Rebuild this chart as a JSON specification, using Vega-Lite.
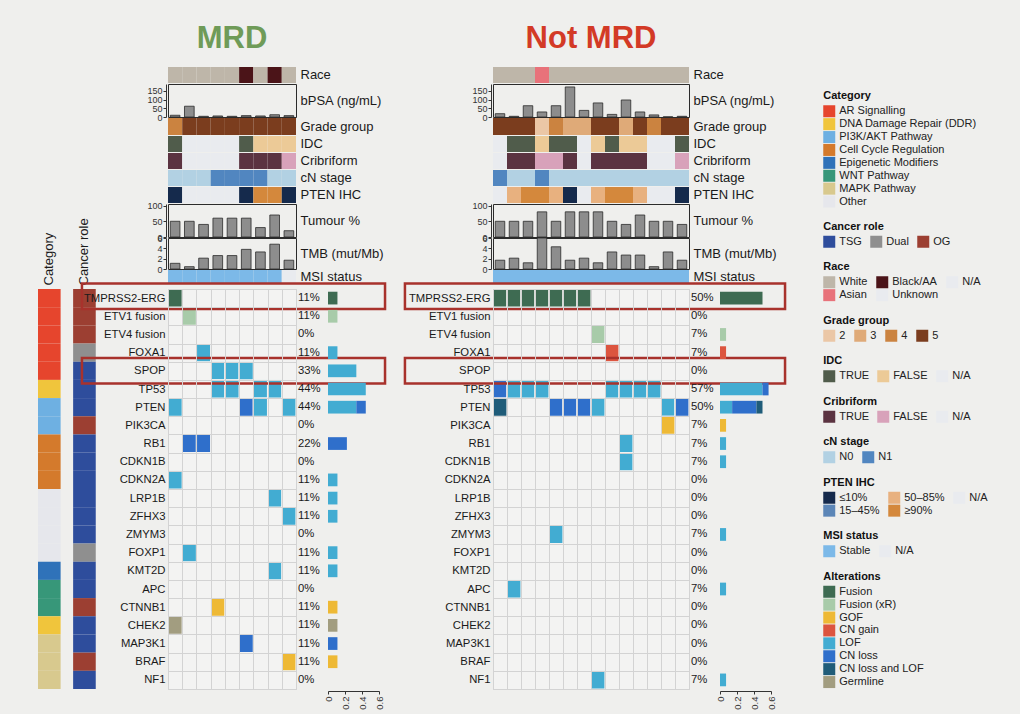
{
"$schema":"https://vega.github.io/schema/vega-lite/v6.json",
"background":"#efefed",
"padding":{"left":38,"top":23,"right":26,"bottom":5},
"config":{"font":"Liberation Sans","view":{"stroke":null},
 "legend":{"orient":"right","offset":42.75,"padding":6.25,"symbolType":"square","symbolSize":144,"symbolStrokeWidth":0,"symbolOpacity":1,"labelFontSize":11,"titleFontSize":11,"titleFontWeight":"bold","titleColor":"#111111","labelColor":"#222222","rowPadding":0.9,"columnPadding":8,"labelOffset":4,"titlePadding":4,"layout":{"right":{"direction":"vertical","anchor":"start","margin":0.5}}}},
"datasets":{
"genes_meta":[
{"gene":"TMPRSS2-ERG","category":"AR Signalling","role":"OG"},
{"gene":"ETV1 fusion","category":"AR Signalling","role":"OG"},
{"gene":"ETV4 fusion","category":"AR Signalling","role":"OG"},
{"gene":"FOXA1","category":"AR Signalling","role":"Dual"},
{"gene":"SPOP","category":"AR Signalling","role":"TSG"},
{"gene":"TP53","category":"DNA Damage Repair (DDR)","role":"TSG"},
{"gene":"PTEN","category":"PI3K/AKT Pathway","role":"TSG"},
{"gene":"PIK3CA","category":"PI3K/AKT Pathway","role":"OG"},
{"gene":"RB1","category":"Cell Cycle Regulation","role":"TSG"},
{"gene":"CDKN1B","category":"Cell Cycle Regulation","role":"TSG"},
{"gene":"CDKN2A","category":"Cell Cycle Regulation","role":"TSG"},
{"gene":"LRP1B","category":"Other","role":"TSG"},
{"gene":"ZFHX3","category":"Other","role":"TSG"},
{"gene":"ZMYM3","category":"Other","role":"TSG"},
{"gene":"FOXP1","category":"Other","role":"Dual"},
{"gene":"KMT2D","category":"Epigenetic Modifiers","role":"TSG"},
{"gene":"APC","category":"WNT Pathway","role":"TSG"},
{"gene":"CTNNB1","category":"WNT Pathway","role":"OG"},
{"gene":"CHEK2","category":"DNA Damage Repair (DDR)","role":"TSG"},
{"gene":"MAP3K1","category":"MAPK Pathway","role":"TSG"},
{"gene":"BRAF","category":"MAPK Pathway","role":"OG"},
{"gene":"NF1","category":"MAPK Pathway","role":"TSG"}],
"clin_mrd":[
{"s":1,"race":"White","bpsa":10,"grade":"4","idc":"TRUE","crib":"TRUE","cn":"N0","pten":"≤10%","tumour":50,"tmb":1.1,"msi":"Stable"},
{"s":2,"race":"White","bpsa":62,"grade":"5","idc":"N/A","crib":"N/A","cn":"N0","pten":"N/A","tumour":50,"tmb":0.45,"msi":"Stable"},
{"s":3,"race":"White","bpsa":4,"grade":"5","idc":"N/A","crib":"N/A","cn":"N0","pten":"N/A","tumour":40,"tmb":2.1,"msi":"Stable"},
{"s":4,"race":"White","bpsa":6,"grade":"5","idc":"N/A","crib":"N/A","cn":"N1","pten":"N/A","tumour":60,"tmb":2.6,"msi":"Stable"},
{"s":5,"race":"White","bpsa":4,"grade":"5","idc":"N/A","crib":"N/A","cn":"N1","pten":"N/A","tumour":60,"tmb":2.6,"msi":"Stable"},
{"s":6,"race":"Black/AA","bpsa":8,"grade":"5","idc":"TRUE","crib":"TRUE","cn":"N1","pten":"≤10%","tumour":60,"tmb":3.8,"msi":"Stable"},
{"s":7,"race":"White","bpsa":6,"grade":"5","idc":"FALSE","crib":"TRUE","cn":"N1","pten":"≥90%","tumour":30,"tmb":3.3,"msi":"Stable"},
{"s":8,"race":"Black/AA","bpsa":13,"grade":"5","idc":"FALSE","crib":"TRUE","cn":"N0","pten":"≥90%","tumour":70,"tmb":4.8,"msi":"Stable"},
{"s":9,"race":"White","bpsa":8,"grade":"5","idc":"FALSE","crib":"FALSE","cn":"N0","pten":"≤10%","tumour":20,"tmb":1.7,"msi":"N/A"}],
"clin_not":[
{"s":1,"race":"White","bpsa":19,"grade":"5","idc":"N/A","crib":"N/A","cn":"N1","pten":"N/A","tumour":50,"tmb":1.7,"msi":"Stable"},
{"s":2,"race":"White","bpsa":4,"grade":"5","idc":"TRUE","crib":"TRUE","cn":"N0","pten":"50–85%","tumour":50,"tmb":2.1,"msi":"Stable"},
{"s":3,"race":"White","bpsa":65,"grade":"5","idc":"TRUE","crib":"TRUE","cn":"N0","pten":"≥90%","tumour":50,"tmb":1.2,"msi":"Stable"},
{"s":4,"race":"Asian","bpsa":29,"grade":"2","idc":"FALSE","crib":"FALSE","cn":"N1","pten":"≥90%","tumour":80,"tmb":6.0,"msi":"Stable"},
{"s":5,"race":"White","bpsa":65,"grade":"4","idc":"TRUE","crib":"FALSE","cn":"N0","pten":"50–85%","tumour":50,"tmb":4.3,"msi":"Stable"},
{"s":6,"race":"White","bpsa":173,"grade":"3","idc":"TRUE","crib":"TRUE","cn":"N0","pten":"≤10%","tumour":80,"tmb":1.7,"msi":"Stable"},
{"s":7,"race":"White","bpsa":38,"grade":"3","idc":"N/A","crib":"N/A","cn":"N0","pten":"N/A","tumour":80,"tmb":2.1,"msi":"Stable"},
{"s":8,"race":"White","bpsa":81,"grade":"5","idc":"FALSE","crib":"TRUE","cn":"N0","pten":"50–85%","tumour":80,"tmb":1.2,"msi":"Stable"},
{"s":9,"race":"White","bpsa":15,"grade":"5","idc":"TRUE","crib":"TRUE","cn":"N0","pten":"≥90%","tumour":50,"tmb":3.3,"msi":"Stable"},
{"s":10,"race":"White","bpsa":98,"grade":"3","idc":"FALSE","crib":"TRUE","cn":"N0","pten":"≥90%","tumour":40,"tmb":2.7,"msi":"Stable"},
{"s":11,"race":"White","bpsa":29,"grade":"5","idc":"FALSE","crib":"TRUE","cn":"N0","pten":"50–85%","tumour":70,"tmb":2.7,"msi":"Stable"},
{"s":12,"race":"White","bpsa":12,"grade":"4","idc":"N/A","crib":"N/A","cn":"N0","pten":"N/A","tumour":50,"tmb":0.45,"msi":"Stable"},
{"s":13,"race":"White","bpsa":1,"grade":"5","idc":"N/A","crib":"N/A","cn":"N0","pten":"N/A","tumour":50,"tmb":3.3,"msi":"Stable"},
{"s":14,"race":"White","bpsa":4,"grade":"5","idc":"TRUE","crib":"FALSE","cn":"N0","pten":"≤10%","tumour":40,"tmb":1.7,"msi":"Stable"}],
"alt_mrd":[
{"s":1,"gene":"TMPRSS2-ERG","alt":"Fusion"},
{"s":2,"gene":"ETV1 fusion","alt":"Fusion (xR)"},
{"s":3,"gene":"FOXA1","alt":"LOF"},
{"s":4,"gene":"SPOP","alt":"LOF"},{"s":5,"gene":"SPOP","alt":"LOF"},{"s":6,"gene":"SPOP","alt":"LOF"},
{"s":4,"gene":"TP53","alt":"LOF"},{"s":5,"gene":"TP53","alt":"LOF"},{"s":7,"gene":"TP53","alt":"LOF"},{"s":8,"gene":"TP53","alt":"LOF"},
{"s":1,"gene":"PTEN","alt":"LOF"},{"s":6,"gene":"PTEN","alt":"CN loss"},{"s":7,"gene":"PTEN","alt":"LOF"},{"s":9,"gene":"PTEN","alt":"LOF"},
{"s":2,"gene":"RB1","alt":"CN loss"},{"s":3,"gene":"RB1","alt":"CN loss"},
{"s":1,"gene":"CDKN2A","alt":"LOF"},
{"s":8,"gene":"LRP1B","alt":"LOF"},
{"s":9,"gene":"ZFHX3","alt":"LOF"},
{"s":2,"gene":"FOXP1","alt":"LOF"},
{"s":8,"gene":"KMT2D","alt":"LOF"},
{"s":4,"gene":"CTNNB1","alt":"GOF"},
{"s":1,"gene":"CHEK2","alt":"Germline"},
{"s":6,"gene":"MAP3K1","alt":"CN loss"},
{"s":9,"gene":"BRAF","alt":"GOF"}],
"alt_not":[
{"s":1,"gene":"TMPRSS2-ERG","alt":"Fusion"},{"s":2,"gene":"TMPRSS2-ERG","alt":"Fusion"},{"s":3,"gene":"TMPRSS2-ERG","alt":"Fusion"},{"s":4,"gene":"TMPRSS2-ERG","alt":"Fusion"},{"s":5,"gene":"TMPRSS2-ERG","alt":"Fusion"},{"s":6,"gene":"TMPRSS2-ERG","alt":"Fusion"},{"s":7,"gene":"TMPRSS2-ERG","alt":"Fusion"},
{"s":8,"gene":"ETV4 fusion","alt":"Fusion (xR)"},
{"s":9,"gene":"FOXA1","alt":"CN gain"},
{"s":1,"gene":"TP53","alt":"CN loss"},{"s":2,"gene":"TP53","alt":"LOF"},{"s":3,"gene":"TP53","alt":"LOF"},{"s":4,"gene":"TP53","alt":"LOF"},{"s":9,"gene":"TP53","alt":"LOF"},{"s":10,"gene":"TP53","alt":"LOF"},{"s":11,"gene":"TP53","alt":"LOF"},{"s":12,"gene":"TP53","alt":"LOF"},
{"s":1,"gene":"PTEN","alt":"CN loss and LOF"},{"s":5,"gene":"PTEN","alt":"CN loss"},{"s":6,"gene":"PTEN","alt":"CN loss"},{"s":7,"gene":"PTEN","alt":"CN loss"},{"s":8,"gene":"PTEN","alt":"LOF"},{"s":13,"gene":"PTEN","alt":"LOF"},{"s":14,"gene":"PTEN","alt":"CN loss"},
{"s":13,"gene":"PIK3CA","alt":"GOF"},
{"s":10,"gene":"RB1","alt":"LOF"},
{"s":10,"gene":"CDKN1B","alt":"LOF"},
{"s":5,"gene":"ZMYM3","alt":"LOF"},
{"s":2,"gene":"APC","alt":"LOF"},
{"s":8,"gene":"NF1","alt":"LOF"}],
"freq_mrd":[
{"gene":"TMPRSS2-ERG","alt":"Fusion","frac":0.1111},
{"gene":"ETV1 fusion","alt":"Fusion (xR)","frac":0.1111},
{"gene":"ETV4 fusion","alt":"none","frac":0},
{"gene":"FOXA1","alt":"LOF","frac":0.1111},
{"gene":"SPOP","alt":"LOF","frac":0.3333},
{"gene":"TP53","alt":"LOF","frac":0.4444},
{"gene":"PTEN","alt":"LOF","frac":0.3333},{"gene":"PTEN","alt":"CN loss","frac":0.1111},
{"gene":"PIK3CA","alt":"none","frac":0},
{"gene":"RB1","alt":"CN loss","frac":0.2222},
{"gene":"CDKN1B","alt":"none","frac":0},
{"gene":"CDKN2A","alt":"LOF","frac":0.1111},
{"gene":"LRP1B","alt":"LOF","frac":0.1111},
{"gene":"ZFHX3","alt":"LOF","frac":0.1111},
{"gene":"ZMYM3","alt":"none","frac":0},
{"gene":"FOXP1","alt":"LOF","frac":0.1111},
{"gene":"KMT2D","alt":"LOF","frac":0.1111},
{"gene":"APC","alt":"none","frac":0},
{"gene":"CTNNB1","alt":"GOF","frac":0.1111},
{"gene":"CHEK2","alt":"Germline","frac":0.1111},
{"gene":"MAP3K1","alt":"CN loss","frac":0.1111},
{"gene":"BRAF","alt":"GOF","frac":0.1111},
{"gene":"NF1","alt":"none","frac":0}],
"freq_not":[
{"gene":"TMPRSS2-ERG","alt":"Fusion","frac":0.5},
{"gene":"ETV1 fusion","alt":"none","frac":0},
{"gene":"ETV4 fusion","alt":"Fusion (xR)","frac":0.0714},
{"gene":"FOXA1","alt":"CN gain","frac":0.0714},
{"gene":"SPOP","alt":"none","frac":0},
{"gene":"TP53","alt":"LOF","frac":0.5},{"gene":"TP53","alt":"CN loss","frac":0.0714},
{"gene":"PTEN","alt":"LOF","frac":0.1429},{"gene":"PTEN","alt":"CN loss","frac":0.2857},{"gene":"PTEN","alt":"CN loss and LOF","frac":0.0714},
{"gene":"PIK3CA","alt":"GOF","frac":0.0714},
{"gene":"RB1","alt":"LOF","frac":0.0714},
{"gene":"CDKN1B","alt":"LOF","frac":0.0714},
{"gene":"CDKN2A","alt":"none","frac":0},
{"gene":"LRP1B","alt":"none","frac":0},
{"gene":"ZFHX3","alt":"none","frac":0},
{"gene":"ZMYM3","alt":"LOF","frac":0.0714},
{"gene":"FOXP1","alt":"none","frac":0},
{"gene":"KMT2D","alt":"none","frac":0},
{"gene":"APC","alt":"LOF","frac":0.0714},
{"gene":"CTNNB1","alt":"none","frac":0},
{"gene":"CHEK2","alt":"none","frac":0},
{"gene":"MAP3K1","alt":"none","frac":0},
{"gene":"BRAF","alt":"none","frac":0},
{"gene":"NF1","alt":"LOF","frac":0.0714}]
},
"concat":[
{"width":1,"height":1,"data":{"values":[]},"mark":"rect","encoding":{}},
{"width":128,"height":16,"data":{"name":"clin_mrd"},"title":{"text":"MRD","fontSize":31,"fontWeight":"bold","color":"#6f9b58","anchor":"middle","frame":"group","offset":-12,"baseline":"alphabetic"},"mark":"rect","encoding":{"x":{"field":"s","type":"ordinal","scale":{"paddingInner":0,"paddingOuter":0},"axis":null},"y":{"datum":"Race","type":"nominal","scale":{"paddingInner":0,"paddingOuter":0},"axis":{"orient":"right","ticks":false,"domain":false,"labelPadding":4,"labelFontSize":13,"labelColor":"#1a1a1a","title":null}},"color":{"field":"race","type":"nominal","scale":{"domain":["White","Black/AA","N/A","Asian","Unknown"],"range":["#beb6a9","#4b1418","#e9ebef","#e8727a","#e9ebef"]},"legend":null}}},
{"width":1,"height":1,"data":{"values":[]},"mark":"rect","encoding":{}},
{"width":1,"height":1,"data":{"values":[]},"mark":"rect","encoding":{}},
{"width":110,"height":1,"data":{"values":[]},"mark":"rect","encoding":{}},
{"width":196,"height":16,"data":{"name":"clin_not"},"title":{"text":"Not MRD","fontSize":31,"fontWeight":"bold","color":"#d33a26","anchor":"middle","frame":"group","offset":-12,"baseline":"alphabetic"},"mark":"rect","encoding":{"x":{"field":"s","type":"ordinal","scale":{"paddingInner":0,"paddingOuter":0},"axis":null},"y":{"datum":"Race","type":"nominal","scale":{"paddingInner":0,"paddingOuter":0},"axis":{"orient":"right","ticks":false,"domain":false,"labelPadding":4,"labelFontSize":13,"labelColor":"#1a1a1a","title":null}},"color":{"field":"race","type":"nominal","scale":{"domain":["White","Black/AA","N/A","Asian","Unknown"],"range":["#beb6a9","#4b1418","#e9ebef","#e8727a","#e9ebef"]},"legend":null}}},
{"width":1,"height":1,"data":{"values":[]},"mark":"rect","encoding":{}},
{"width":1,"height":1,"data":{"values":[]},"mark":"rect","encoding":{}},
{"width":1,"height":1,"data":{"values":[]},"mark":"rect","encoding":{}},

{"width":1,"height":1,"data":{"values":[]},"mark":"rect","encoding":{}},
{"width":128,"height":33,"data":{"name":"clin_mrd"},"view":{"stroke":"#2b2b2b","strokeWidth":1},"layer":[{"mark":{"type":"bar","fill":"#8d8d8d","stroke":"#2b2b2b","strokeWidth":0.8},"encoding":{"x":{"field":"s","type":"ordinal","scale":{"paddingInner":0.32,"paddingOuter":0.16},"axis":null},"y":{"field":"bpsa","type":"quantitative","scale":{"domain":[0,190],"nice":false},"axis":{"orient":"left","values":[0,50,100,150],"tickSize":3,"tickColor":"#333333","domainColor":"#333333","labelFontSize":9,"labelColor":"#333333","labelPadding":1,"offset":2,"grid":false,"title":null,"labelOverlap":false,"labelFlush":false}}}},{"mark":{"type":"text","text":""},"encoding":{"y":{"datum":"bPSA (ng/mL)","type":"nominal","axis":{"orient":"right","ticks":false,"domain":false,"labelPadding":4,"labelFontSize":13,"labelColor":"#1a1a1a","title":null}}}}],"resolve":{"scale":{"y":"independent"}}},
{"width":1,"height":1,"data":{"values":[]},"mark":"rect","encoding":{}},
{"width":1,"height":1,"data":{"values":[]},"mark":"rect","encoding":{}},
{"width":1,"height":1,"data":{"values":[]},"mark":"rect","encoding":{}},
{"width":196,"height":33,"data":{"name":"clin_not"},"view":{"stroke":"#2b2b2b","strokeWidth":1},"layer":[{"mark":{"type":"bar","fill":"#8d8d8d","stroke":"#2b2b2b","strokeWidth":0.8},"encoding":{"x":{"field":"s","type":"ordinal","scale":{"paddingInner":0.32,"paddingOuter":0.16},"axis":null},"y":{"field":"bpsa","type":"quantitative","scale":{"domain":[0,190],"nice":false},"axis":{"orient":"left","values":[0,50,100,150],"tickSize":3,"tickColor":"#333333","domainColor":"#333333","labelFontSize":9,"labelColor":"#333333","labelPadding":1,"offset":2,"grid":false,"title":null,"labelOverlap":false,"labelFlush":false}}}},{"mark":{"type":"text","text":""},"encoding":{"y":{"datum":"bPSA (ng/mL)","type":"nominal","axis":{"orient":"right","ticks":false,"domain":false,"labelPadding":4,"labelFontSize":13,"labelColor":"#1a1a1a","title":null}}}}],"resolve":{"scale":{"y":"independent"}}},
{"width":1,"height":1,"data":{"values":[]},"mark":"rect","encoding":{}},
{"width":1,"height":1,"data":{"values":[]},"mark":"rect","encoding":{}},
{"width":1,"height":1,"data":{"values":[]},"layer":[
 {"mark":"square","encoding":{"color":{"field":"v","type":"nominal","scale":{"domain":["AR Signalling","DNA Damage Repair (DDR)","PI3K/AKT Pathway","Cell Cycle Regulation","Epigenetic Modifiers","WNT Pathway","MAPK Pathway","Other"],"range":["#e6452d","#f0c53c","#6eb0e2","#d47a2c","#2f72b9","#379779","#d8c98e","#e6e7ec"]},"legend":{"title":"Category"}}}},
 {"mark":"square","encoding":{"color":{"field":"v","type":"nominal","scale":{"domain":["TSG","Dual","OG"],"range":["#2e4d9c","#8f8f8f","#9c3f32"]},"legend":{"title":"Cancer role","columns":3,"direction":"horizontal"}}}},
 {"mark":"square","encoding":{"color":{"field":"v","type":"nominal","scale":{"domain":["White","Black/AA","N/A","Asian","Unknown"],"range":["#beb6a9","#4b1418","#e9ebef","#e8727a","#e9ebef"]},"legend":{"title":"Race","columns":3,"direction":"horizontal"}}}},
 {"mark":"square","encoding":{"color":{"field":"v","type":"nominal","scale":{"domain":["2","3","4","5"],"range":["#ebc7a6","#dfaa78","#cb8340","#7b3d1e"]},"legend":{"title":"Grade group","columns":4,"direction":"horizontal"}}}},
 {"mark":"square","encoding":{"color":{"field":"v","type":"nominal","scale":{"domain":["TRUE","FALSE","N/A"],"range":["#505c4b","#ecca97","#e9ebef"]},"legend":{"title":"IDC","columns":3,"direction":"horizontal"}}}},
 {"mark":"square","encoding":{"color":{"field":"v","type":"nominal","scale":{"domain":["TRUE","FALSE","N/A"],"range":["#5b3341","#d8a2ba","#e9ebef"]},"legend":{"title":"Cribriform","columns":3,"direction":"horizontal"}}}},
 {"mark":"square","encoding":{"color":{"field":"v","type":"nominal","scale":{"domain":["N0","N1"],"range":["#b2d1e3","#5186c0"]},"legend":{"title":"cN stage","columns":2,"direction":"horizontal"}}}},
 {"mark":"square","encoding":{"color":{"field":"v","type":"nominal","scale":{"domain":["≤10%","50–85%","N/A","15–45%","≥90%"],"range":["#152a4c","#e8b17f","#e9ebef","#5c86b7","#d4883c"]},"legend":{"title":"PTEN IHC","columns":3,"direction":"horizontal"}}}},
 {"mark":"square","encoding":{"color":{"field":"v","type":"nominal","scale":{"domain":["Stable","N/A"],"range":["#7cb9e8","#e9ebef"]},"legend":{"title":"MSI status","columns":2,"direction":"horizontal"}}}},
 {"mark":"square","encoding":{"color":{"field":"v","type":"nominal","scale":{"domain":["Fusion","Fusion (xR)","GOF","CN gain","LOF","CN loss","CN loss and LOF","Germline"],"range":["#3e6b52","#a8cba9","#eeb935","#dc553f","#42acd2","#2f6fcb","#1f5c79","#a29d80"]},"legend":{"title":"Alterations"}}}}
],"resolve":{"scale":{"color":"independent"},"legend":{"color":"independent"}}},

{"width":1,"height":1,"data":{"values":[]},"mark":"rect","encoding":{}},
{"width":128,"height":17,"data":{"name":"clin_mrd"},"mark":"rect","encoding":{"x":{"field":"s","type":"ordinal","scale":{"paddingInner":0,"paddingOuter":0},"axis":null},"y":{"datum":"Grade group","type":"nominal","scale":{"paddingInner":0,"paddingOuter":0},"axis":{"orient":"right","ticks":false,"domain":false,"labelPadding":4,"labelFontSize":13,"labelColor":"#1a1a1a","title":null}},"color":{"field":"grade","type":"nominal","scale":{"domain":["2","3","4","5"],"range":["#ebc7a6","#dfaa78","#cb8340","#7b3d1e"]},"legend":null}}},
{"width":1,"height":1,"data":{"values":[]},"mark":"rect","encoding":{}},
{"width":1,"height":1,"data":{"values":[]},"mark":"rect","encoding":{}},
{"width":1,"height":1,"data":{"values":[]},"mark":"rect","encoding":{}},
{"width":196,"height":17,"data":{"name":"clin_not"},"mark":"rect","encoding":{"x":{"field":"s","type":"ordinal","scale":{"paddingInner":0,"paddingOuter":0},"axis":null},"y":{"datum":"Grade group","type":"nominal","scale":{"paddingInner":0,"paddingOuter":0},"axis":{"orient":"right","ticks":false,"domain":false,"labelPadding":4,"labelFontSize":13,"labelColor":"#1a1a1a","title":null}},"color":{"field":"grade","type":"nominal","scale":{"domain":["2","3","4","5"],"range":["#ebc7a6","#dfaa78","#cb8340","#7b3d1e"]},"legend":null}}},
{"width":1,"height":1,"data":{"values":[]},"mark":"rect","encoding":{}},
{"width":1,"height":1,"data":{"values":[]},"mark":"rect","encoding":{}},
{"width":1,"height":1,"data":{"values":[]},"mark":"rect","encoding":{}},

{"width":1,"height":1,"data":{"values":[]},"mark":"rect","encoding":{}},
{"width":128,"height":16,"data":{"name":"clin_mrd"},"mark":"rect","encoding":{"x":{"field":"s","type":"ordinal","scale":{"paddingInner":0,"paddingOuter":0},"axis":null},"y":{"datum":"IDC","type":"nominal","scale":{"paddingInner":0,"paddingOuter":0},"axis":{"orient":"right","ticks":false,"domain":false,"labelPadding":4,"labelFontSize":13,"labelColor":"#1a1a1a","title":null}},"color":{"field":"idc","type":"nominal","scale":{"domain":["TRUE","FALSE","N/A"],"range":["#505c4b","#ecca97","#e9ebef"]},"legend":null}}},
{"width":1,"height":1,"data":{"values":[]},"mark":"rect","encoding":{}},
{"width":1,"height":1,"data":{"values":[]},"mark":"rect","encoding":{}},
{"width":1,"height":1,"data":{"values":[]},"mark":"rect","encoding":{}},
{"width":196,"height":16,"data":{"name":"clin_not"},"mark":"rect","encoding":{"x":{"field":"s","type":"ordinal","scale":{"paddingInner":0,"paddingOuter":0},"axis":null},"y":{"datum":"IDC","type":"nominal","scale":{"paddingInner":0,"paddingOuter":0},"axis":{"orient":"right","ticks":false,"domain":false,"labelPadding":4,"labelFontSize":13,"labelColor":"#1a1a1a","title":null}},"color":{"field":"idc","type":"nominal","scale":{"domain":["TRUE","FALSE","N/A"],"range":["#505c4b","#ecca97","#e9ebef"]},"legend":null}}},
{"width":1,"height":1,"data":{"values":[]},"mark":"rect","encoding":{}},
{"width":1,"height":1,"data":{"values":[]},"mark":"rect","encoding":{}},
{"width":1,"height":1,"data":{"values":[]},"mark":"rect","encoding":{}},

{"width":1,"height":1,"data":{"values":[]},"mark":"rect","encoding":{}},
{"width":128,"height":16,"data":{"name":"clin_mrd"},"mark":"rect","encoding":{"x":{"field":"s","type":"ordinal","scale":{"paddingInner":0,"paddingOuter":0},"axis":null},"y":{"datum":"Cribriform","type":"nominal","scale":{"paddingInner":0,"paddingOuter":0},"axis":{"orient":"right","ticks":false,"domain":false,"labelPadding":4,"labelFontSize":13,"labelColor":"#1a1a1a","title":null}},"color":{"field":"crib","type":"nominal","scale":{"domain":["TRUE","FALSE","N/A"],"range":["#5b3341","#d8a2ba","#e9ebef"]},"legend":null}}},
{"width":1,"height":1,"data":{"values":[]},"mark":"rect","encoding":{}},
{"width":1,"height":1,"data":{"values":[]},"mark":"rect","encoding":{}},
{"width":1,"height":1,"data":{"values":[]},"mark":"rect","encoding":{}},
{"width":196,"height":16,"data":{"name":"clin_not"},"mark":"rect","encoding":{"x":{"field":"s","type":"ordinal","scale":{"paddingInner":0,"paddingOuter":0},"axis":null},"y":{"datum":"Cribriform","type":"nominal","scale":{"paddingInner":0,"paddingOuter":0},"axis":{"orient":"right","ticks":false,"domain":false,"labelPadding":4,"labelFontSize":13,"labelColor":"#1a1a1a","title":null}},"color":{"field":"crib","type":"nominal","scale":{"domain":["TRUE","FALSE","N/A"],"range":["#5b3341","#d8a2ba","#e9ebef"]},"legend":null}}},
{"width":1,"height":1,"data":{"values":[]},"mark":"rect","encoding":{}},
{"width":1,"height":1,"data":{"values":[]},"mark":"rect","encoding":{}},
{"width":1,"height":1,"data":{"values":[]},"mark":"rect","encoding":{}},

{"width":1,"height":1,"data":{"values":[]},"mark":"rect","encoding":{}},
{"width":128,"height":16,"data":{"name":"clin_mrd"},"mark":"rect","encoding":{"x":{"field":"s","type":"ordinal","scale":{"paddingInner":0,"paddingOuter":0},"axis":null},"y":{"datum":"cN stage","type":"nominal","scale":{"paddingInner":0,"paddingOuter":0},"axis":{"orient":"right","ticks":false,"domain":false,"labelPadding":4,"labelFontSize":13,"labelColor":"#1a1a1a","title":null}},"color":{"field":"cn","type":"nominal","scale":{"domain":["N0","N1"],"range":["#b2d1e3","#5186c0"]},"legend":null}}},
{"width":1,"height":1,"data":{"values":[]},"mark":"rect","encoding":{}},
{"width":1,"height":1,"data":{"values":[]},"mark":"rect","encoding":{}},
{"width":1,"height":1,"data":{"values":[]},"mark":"rect","encoding":{}},
{"width":196,"height":16,"data":{"name":"clin_not"},"mark":"rect","encoding":{"x":{"field":"s","type":"ordinal","scale":{"paddingInner":0,"paddingOuter":0},"axis":null},"y":{"datum":"cN stage","type":"nominal","scale":{"paddingInner":0,"paddingOuter":0},"axis":{"orient":"right","ticks":false,"domain":false,"labelPadding":4,"labelFontSize":13,"labelColor":"#1a1a1a","title":null}},"color":{"field":"cn","type":"nominal","scale":{"domain":["N0","N1"],"range":["#b2d1e3","#5186c0"]},"legend":null}}},
{"width":1,"height":1,"data":{"values":[]},"mark":"rect","encoding":{}},
{"width":1,"height":1,"data":{"values":[]},"mark":"rect","encoding":{}},
{"width":1,"height":1,"data":{"values":[]},"mark":"rect","encoding":{}},

{"width":1,"height":1,"data":{"values":[]},"mark":"rect","encoding":{}},
{"width":128,"height":16,"data":{"name":"clin_mrd"},"mark":"rect","encoding":{"x":{"field":"s","type":"ordinal","scale":{"paddingInner":0,"paddingOuter":0},"axis":null},"y":{"datum":"PTEN IHC","type":"nominal","scale":{"paddingInner":0,"paddingOuter":0},"axis":{"orient":"right","ticks":false,"domain":false,"labelPadding":4,"labelFontSize":13,"labelColor":"#1a1a1a","title":null}},"color":{"field":"pten","type":"nominal","scale":{"domain":["≤10%","50–85%","N/A","15–45%","≥90%"],"range":["#152a4c","#e8b17f","#e9ebef","#5c86b7","#d4883c"]},"legend":null}}},
{"width":1,"height":1,"data":{"values":[]},"mark":"rect","encoding":{}},
{"width":1,"height":1,"data":{"values":[]},"mark":"rect","encoding":{}},
{"width":1,"height":1,"data":{"values":[]},"mark":"rect","encoding":{}},
{"width":196,"height":16,"data":{"name":"clin_not"},"mark":"rect","encoding":{"x":{"field":"s","type":"ordinal","scale":{"paddingInner":0,"paddingOuter":0},"axis":null},"y":{"datum":"PTEN IHC","type":"nominal","scale":{"paddingInner":0,"paddingOuter":0},"axis":{"orient":"right","ticks":false,"domain":false,"labelPadding":4,"labelFontSize":13,"labelColor":"#1a1a1a","title":null}},"color":{"field":"pten","type":"nominal","scale":{"domain":["≤10%","50–85%","N/A","15–45%","≥90%"],"range":["#152a4c","#e8b17f","#e9ebef","#5c86b7","#d4883c"]},"legend":null}}},
{"width":1,"height":1,"data":{"values":[]},"mark":"rect","encoding":{}},
{"width":1,"height":1,"data":{"values":[]},"mark":"rect","encoding":{}},
{"width":1,"height":1,"data":{"values":[]},"mark":"rect","encoding":{}},

{"width":1,"height":1,"data":{"values":[]},"mark":"rect","encoding":{}},
{"width":128,"height":33,"data":{"name":"clin_mrd"},"view":{"stroke":"#2b2b2b","strokeWidth":1},"layer":[{"mark":{"type":"bar","fill":"#8d8d8d","stroke":"#2b2b2b","strokeWidth":0.8},"encoding":{"x":{"field":"s","type":"ordinal","scale":{"paddingInner":0.32,"paddingOuter":0.16},"axis":null},"y":{"field":"tumour","type":"quantitative","scale":{"domain":[0,105],"nice":false},"axis":{"orient":"left","values":[0,50,100],"tickSize":3,"tickColor":"#333333","domainColor":"#333333","labelFontSize":9,"labelColor":"#333333","labelPadding":1,"offset":2,"grid":false,"title":null,"labelOverlap":false,"labelFlush":false}}}},{"mark":{"type":"text","text":""},"encoding":{"y":{"datum":"Tumour %","type":"nominal","axis":{"orient":"right","ticks":false,"domain":false,"labelPadding":4,"labelFontSize":13,"labelColor":"#1a1a1a","title":null}}}}],"resolve":{"scale":{"y":"independent"}}},
{"width":1,"height":1,"data":{"values":[]},"mark":"rect","encoding":{}},
{"width":1,"height":1,"data":{"values":[]},"mark":"rect","encoding":{}},
{"width":1,"height":1,"data":{"values":[]},"mark":"rect","encoding":{}},
{"width":196,"height":33,"data":{"name":"clin_not"},"view":{"stroke":"#2b2b2b","strokeWidth":1},"layer":[{"mark":{"type":"bar","fill":"#8d8d8d","stroke":"#2b2b2b","strokeWidth":0.8},"encoding":{"x":{"field":"s","type":"ordinal","scale":{"paddingInner":0.32,"paddingOuter":0.16},"axis":null},"y":{"field":"tumour","type":"quantitative","scale":{"domain":[0,105],"nice":false},"axis":{"orient":"left","values":[0,50,100],"tickSize":3,"tickColor":"#333333","domainColor":"#333333","labelFontSize":9,"labelColor":"#333333","labelPadding":1,"offset":2,"grid":false,"title":null,"labelOverlap":false,"labelFlush":false}}}},{"mark":{"type":"text","text":""},"encoding":{"y":{"datum":"Tumour %","type":"nominal","axis":{"orient":"right","ticks":false,"domain":false,"labelPadding":4,"labelFontSize":13,"labelColor":"#1a1a1a","title":null}}}}],"resolve":{"scale":{"y":"independent"}}},
{"width":1,"height":1,"data":{"values":[]},"mark":"rect","encoding":{}},
{"width":1,"height":1,"data":{"values":[]},"mark":"rect","encoding":{}},
{"width":1,"height":1,"data":{"values":[]},"mark":"rect","encoding":{}},

{"width":1,"height":1,"data":{"values":[]},"mark":"rect","encoding":{}},
{"width":128,"height":31,"data":{"name":"clin_mrd"},"view":{"stroke":"#2b2b2b","strokeWidth":1},"layer":[{"mark":{"type":"bar","fill":"#8d8d8d","stroke":"#2b2b2b","strokeWidth":0.8},"encoding":{"x":{"field":"s","type":"ordinal","scale":{"paddingInner":0.32,"paddingOuter":0.16},"axis":null},"y":{"field":"tmb","type":"quantitative","scale":{"domain":[0,6],"nice":false},"axis":{"orient":"left","values":[0,2,4,6],"tickSize":3,"tickColor":"#333333","domainColor":"#333333","labelFontSize":9,"labelColor":"#333333","labelPadding":1,"offset":2,"grid":false,"title":null,"labelOverlap":false,"labelFlush":false}}}},{"mark":{"type":"text","text":""},"encoding":{"y":{"datum":"TMB (mut/Mb)","type":"nominal","axis":{"orient":"right","ticks":false,"domain":false,"labelPadding":4,"labelFontSize":13,"labelColor":"#1a1a1a","title":null}}}}],"resolve":{"scale":{"y":"independent"}}},
{"width":1,"height":1,"data":{"values":[]},"mark":"rect","encoding":{}},
{"width":1,"height":1,"data":{"values":[]},"mark":"rect","encoding":{}},
{"width":1,"height":1,"data":{"values":[]},"mark":"rect","encoding":{}},
{"width":196,"height":31,"data":{"name":"clin_not"},"view":{"stroke":"#2b2b2b","strokeWidth":1},"layer":[{"mark":{"type":"bar","fill":"#8d8d8d","stroke":"#2b2b2b","strokeWidth":0.8},"encoding":{"x":{"field":"s","type":"ordinal","scale":{"paddingInner":0.32,"paddingOuter":0.16},"axis":null},"y":{"field":"tmb","type":"quantitative","scale":{"domain":[0,6],"nice":false},"axis":{"orient":"left","values":[0,2,4,6],"tickSize":3,"tickColor":"#333333","domainColor":"#333333","labelFontSize":9,"labelColor":"#333333","labelPadding":1,"offset":2,"grid":false,"title":null,"labelOverlap":false,"labelFlush":false}}}},{"mark":{"type":"text","text":""},"encoding":{"y":{"datum":"TMB (mut/Mb)","type":"nominal","axis":{"orient":"right","ticks":false,"domain":false,"labelPadding":4,"labelFontSize":13,"labelColor":"#1a1a1a","title":null}}}}],"resolve":{"scale":{"y":"independent"}}},
{"width":1,"height":1,"data":{"values":[]},"mark":"rect","encoding":{}},
{"width":1,"height":1,"data":{"values":[]},"mark":"rect","encoding":{}},
{"width":1,"height":1,"data":{"values":[]},"mark":"rect","encoding":{}},

{"width":1,"height":18,"data":{"values":[]},"mark":"rect","encoding":{}},
{"width":128,"height":13,"data":{"name":"clin_mrd"},"mark":"rect","encoding":{"x":{"field":"s","type":"ordinal","scale":{"paddingInner":0,"paddingOuter":0},"axis":null},"y":{"datum":"MSI status","type":"nominal","scale":{"paddingInner":0,"paddingOuter":0},"axis":{"orient":"right","ticks":false,"domain":false,"labelPadding":4,"labelFontSize":13,"labelColor":"#1a1a1a","title":null}},"color":{"field":"msi","type":"nominal","scale":{"domain":["Stable","N/A"],"range":["#7cb9e8","#e9ebef"]},"legend":null}}},
{"width":1,"height":1,"data":{"values":[]},"mark":"rect","encoding":{}},
{"width":1,"height":1,"data":{"values":[]},"mark":"rect","encoding":{}},
{"width":1,"height":1,"data":{"values":[]},"mark":"rect","encoding":{}},
{"width":196,"height":13,"data":{"name":"clin_not"},"mark":"rect","encoding":{"x":{"field":"s","type":"ordinal","scale":{"paddingInner":0,"paddingOuter":0},"axis":null},"y":{"datum":"MSI status","type":"nominal","scale":{"paddingInner":0,"paddingOuter":0},"axis":{"orient":"right","ticks":false,"domain":false,"labelPadding":4,"labelFontSize":13,"labelColor":"#1a1a1a","title":null}},"color":{"field":"msi","type":"nominal","scale":{"domain":["Stable","N/A"],"range":["#7cb9e8","#e9ebef"]},"legend":null}}},
{"width":1,"height":1,"data":{"values":[]},"mark":"rect","encoding":{}},
{"width":1,"height":1,"data":{"values":[]},"mark":"rect","encoding":{}},
{"width":1,"height":1,"data":{"values":[]},"mark":"rect","encoding":{}},

{"width":128,"height":400,"data":{"name":"genes_meta"},"layer":[
 {"mark":"rect","encoding":{"x":{"datum":"Category","type":"nominal","scale":{"domain":["Category","Cancer role"],"paddingInner":0.356,"paddingOuter":2.02,"align":0},"axis":{"orient":"top","labelAngle":270,"labelAlign":"left","labelBaseline":"middle","ticks":false,"domain":false,"labelFontSize":13,"labelColor":"#1a1a1a","labelPadding":4,"title":null}},"y":{"field":"gene","type":"nominal","scale":{"domain":["TMPRSS2-ERG","ETV1 fusion","ETV4 fusion","FOXA1","SPOP","TP53","PTEN","PIK3CA","RB1","CDKN1B","CDKN2A","LRP1B","ZFHX3","ZMYM3","FOXP1","KMT2D","APC","CTNNB1","CHEK2","MAP3K1","BRAF","NF1"],"paddingInner":0,"paddingOuter":0},"axis":null},"color":{"field":"category","type":"nominal","scale":{"domain":["AR Signalling","DNA Damage Repair (DDR)","PI3K/AKT Pathway","Cell Cycle Regulation","Epigenetic Modifiers","WNT Pathway","MAPK Pathway","Other"],"range":["#e6452d","#f0c53c","#6eb0e2","#d47a2c","#2f72b9","#379779","#d8c98e","#e6e7ec"]},"legend":null}}},
 {"mark":"rect","encoding":{"x":{"datum":"Cancer role","type":"nominal"},"y":{"field":"gene","type":"nominal"},"color":{"field":"role","type":"nominal","scale":{"domain":["TSG","Dual","OG"],"range":["#2e4d9c","#8f8f8f","#9c3f32"]},"legend":null}}}
],"resolve":{"scale":{"color":"independent"}}},
{"width":128,"height":400,"view":{"fill":"#f3f3f2","stroke":"#d3d3d3"},"layer":[
 {"data":{"name":"alt_mrd"},"mark":{"type":"rect","stroke":"#f3f3f2","strokeWidth":1.2},"encoding":{"x":{"field":"s","type":"ordinal","scale":{"domain":[1,2,3,4,5,6,7,8,9],"paddingInner":0,"paddingOuter":0},"axis":{"orient":"bottom","grid":true,"tickBand":"extent","gridColor":"#d3d3d3","labels":false,"ticks":false,"domain":false,"title":null}},"y":{"field":"gene","type":"nominal","scale":{"domain":["TMPRSS2-ERG","ETV1 fusion","ETV4 fusion","FOXA1","SPOP","TP53","PTEN","PIK3CA","RB1","CDKN1B","CDKN2A","LRP1B","ZFHX3","ZMYM3","FOXP1","KMT2D","APC","CTNNB1","CHEK2","MAP3K1","BRAF","NF1"],"paddingInner":0,"paddingOuter":0},"axis":{"orient":"left","grid":true,"tickBand":"extent","gridColor":"#d3d3d3","ticks":false,"domain":false,"labelFontSize":11.3,"labelColor":"#1a1a1a","labelPadding":3,"title":null}},"color":{"field":"alt","type":"nominal","scale":{"domain":["Fusion","Fusion (xR)","GOF","CN gain","LOF","CN loss","CN loss and LOF","Germline"],"range":["#3e6b52","#a8cba9","#eeb935","#dc553f","#42acd2","#2f6fcb","#1f5c79","#a29d80"]},"legend":null}}},
 {"data":{"values":[{}]},"mark":{"type":"rect","fill":"#ffffff","fillOpacity":0,"stroke":"#a8322c","strokeWidth":2.5},"encoding":{"x":{"datum":-6.05,"type":"quantitative","scale":{"domain":[0,9],"nice":false},"axis":null},"x2":{"datum":15.26},"y":{"datum":-0.3,"type":"quantitative","scale":{"domain":[0,22],"nice":false,"reverse":true},"axis":null},"y2":{"datum":1.1}}},
 {"data":{"values":[{}]},"mark":{"type":"rect","fill":"#ffffff","fillOpacity":0,"stroke":"#a8322c","strokeWidth":2.5},"encoding":{"x":{"datum":-6.05,"type":"quantitative","scale":{"domain":[0,9],"nice":false},"axis":null},"x2":{"datum":15.26},"y":{"datum":3.8,"type":"quantitative","scale":{"domain":[0,22],"nice":false,"reverse":true},"axis":null},"y2":{"datum":5.2}}}
],"resolve":{"scale":{"x":"independent","y":"independent"}}},
{"width":28,"height":400,"data":{"name":"freq_mrd"},"mark":{"type":"text","align":"left","baseline":"middle","fontSize":11.3,"color":"#1a1a1a"},"encoding":{"x":{"datum":0,"type":"quantitative","scale":{"domain":[0,1]},"axis":null},"y":{"field":"gene","type":"nominal","scale":{"type":"point","domain":["TMPRSS2-ERG","ETV1 fusion","ETV4 fusion","FOXA1","SPOP","TP53","PTEN","PIK3CA","RB1","CDKN1B","CDKN2A","LRP1B","ZFHX3","ZMYM3","FOXP1","KMT2D","APC","CTNNB1","CHEK2","MAP3K1","BRAF","NF1"],"padding":0.5},"axis":null},"text":{"aggregate":"sum","field":"frac","type":"quantitative","format":".0%"}}},
{"width":51,"height":400,"data":{"name":"freq_mrd"},"transform":[{"filter":"datum.frac > 0"},{"calculate":"indexof(['Fusion','Fusion (xR)','GOF','CN gain','LOF','CN loss','CN loss and LOF','Germline'], datum.alt)","as":"rank"}],"mark":"bar","encoding":{"y":{"field":"gene","type":"nominal","scale":{"domain":["TMPRSS2-ERG","ETV1 fusion","ETV4 fusion","FOXA1","SPOP","TP53","PTEN","PIK3CA","RB1","CDKN1B","CDKN2A","LRP1B","ZFHX3","ZMYM3","FOXP1","KMT2D","APC","CTNNB1","CHEK2","MAP3K1","BRAF","NF1"],"paddingInner":0.3,"paddingOuter":0.15},"axis":null},"x":{"field":"frac","type":"quantitative","scale":{"domain":[0,0.6],"nice":false},"axis":{"orient":"bottom","values":[0,0.2,0.4,0.6],"format":"~g","labelAngle":270,"tickSize":3,"tickColor":"#333333","domainColor":"#333333","labelColor":"#333333","labelFontSize":9.5,"labelPadding":2,"offset":2,"grid":false,"title":null,"labelFlush":false,"labelOverlap":false}},"color":{"field":"alt","type":"nominal","scale":{"domain":["Fusion","Fusion (xR)","GOF","CN gain","LOF","CN loss","CN loss and LOF","Germline"],"range":["#3e6b52","#a8cba9","#eeb935","#dc553f","#42acd2","#2f6fcb","#1f5c79","#a29d80"]},"legend":null},"order":{"field":"rank","type":"quantitative"}}},
{"width":1,"height":1,"data":{"values":[]},"mark":"rect","encoding":{}},
{"width":196,"height":400,"view":{"fill":"#f3f3f2","stroke":"#d3d3d3"},"layer":[
 {"data":{"name":"alt_not"},"mark":{"type":"rect","stroke":"#f3f3f2","strokeWidth":1.2},"encoding":{"x":{"field":"s","type":"ordinal","scale":{"domain":[1,2,3,4,5,6,7,8,9,10,11,12,13,14],"paddingInner":0,"paddingOuter":0},"axis":{"orient":"bottom","grid":true,"tickBand":"extent","gridColor":"#d3d3d3","labels":false,"ticks":false,"domain":false,"title":null}},"y":{"field":"gene","type":"nominal","scale":{"domain":["TMPRSS2-ERG","ETV1 fusion","ETV4 fusion","FOXA1","SPOP","TP53","PTEN","PIK3CA","RB1","CDKN1B","CDKN2A","LRP1B","ZFHX3","ZMYM3","FOXP1","KMT2D","APC","CTNNB1","CHEK2","MAP3K1","BRAF","NF1"],"paddingInner":0,"paddingOuter":0},"axis":{"orient":"left","grid":true,"tickBand":"extent","gridColor":"#d3d3d3","ticks":false,"domain":false,"labelFontSize":11.3,"labelColor":"#1a1a1a","labelPadding":3,"title":null}},"color":{"field":"alt","type":"nominal","scale":{"domain":["Fusion","Fusion (xR)","GOF","CN gain","LOF","CN loss","CN loss and LOF","Germline"],"range":["#3e6b52","#a8cba9","#eeb935","#dc553f","#42acd2","#2f6fcb","#1f5c79","#a29d80"]},"legend":null}}},
 {"data":{"values":[{}]},"mark":{"type":"rect","fill":"#ffffff","fillOpacity":0,"stroke":"#a8322c","strokeWidth":2.5},"encoding":{"x":{"datum":-6.29,"type":"quantitative","scale":{"domain":[0,14],"nice":false},"axis":null},"x2":{"datum":20.86},"y":{"datum":-0.3,"type":"quantitative","scale":{"domain":[0,22],"nice":false,"reverse":true},"axis":null},"y2":{"datum":1.1}}},
 {"data":{"values":[{}]},"mark":{"type":"rect","fill":"#ffffff","fillOpacity":0,"stroke":"#a8322c","strokeWidth":2.5},"encoding":{"x":{"datum":-6.29,"type":"quantitative","scale":{"domain":[0,14],"nice":false},"axis":null},"x2":{"datum":20.86},"y":{"datum":3.8,"type":"quantitative","scale":{"domain":[0,22],"nice":false,"reverse":true},"axis":null},"y2":{"datum":5.2}}}
],"resolve":{"scale":{"x":"independent","y":"independent"}}},
{"width":27,"height":400,"data":{"name":"freq_not"},"mark":{"type":"text","align":"left","baseline":"middle","fontSize":11.3,"color":"#1a1a1a"},"encoding":{"x":{"datum":0,"type":"quantitative","scale":{"domain":[0,1]},"axis":null},"y":{"field":"gene","type":"nominal","scale":{"type":"point","domain":["TMPRSS2-ERG","ETV1 fusion","ETV4 fusion","FOXA1","SPOP","TP53","PTEN","PIK3CA","RB1","CDKN1B","CDKN2A","LRP1B","ZFHX3","ZMYM3","FOXP1","KMT2D","APC","CTNNB1","CHEK2","MAP3K1","BRAF","NF1"],"padding":0.5},"axis":null},"text":{"aggregate":"sum","field":"frac","type":"quantitative","format":".0%"}}},
{"width":51,"height":400,"data":{"name":"freq_not"},"transform":[{"filter":"datum.frac > 0"},{"calculate":"indexof(['Fusion','Fusion (xR)','GOF','CN gain','LOF','CN loss','CN loss and LOF','Germline'], datum.alt)","as":"rank"}],"mark":"bar","encoding":{"y":{"field":"gene","type":"nominal","scale":{"domain":["TMPRSS2-ERG","ETV1 fusion","ETV4 fusion","FOXA1","SPOP","TP53","PTEN","PIK3CA","RB1","CDKN1B","CDKN2A","LRP1B","ZFHX3","ZMYM3","FOXP1","KMT2D","APC","CTNNB1","CHEK2","MAP3K1","BRAF","NF1"],"paddingInner":0.3,"paddingOuter":0.15},"axis":null},"x":{"field":"frac","type":"quantitative","scale":{"domain":[0,0.6],"nice":false},"axis":{"orient":"bottom","values":[0,0.2,0.4,0.6],"format":"~g","labelAngle":270,"tickSize":3,"tickColor":"#333333","domainColor":"#333333","labelColor":"#333333","labelFontSize":9.5,"labelPadding":2,"offset":2,"grid":false,"title":null,"labelFlush":false,"labelOverlap":false}},"color":{"field":"alt","type":"nominal","scale":{"domain":["Fusion","Fusion (xR)","GOF","CN gain","LOF","CN loss","CN loss and LOF","Germline"],"range":["#3e6b52","#a8cba9","#eeb935","#dc553f","#42acd2","#2f6fcb","#1f5c79","#a29d80"]},"legend":null},"order":{"field":"rank","type":"quantitative"}}},
{"width":1,"height":1,"data":{"values":[]},"mark":"rect","encoding":{}}
],
"columns":9,
"spacing":{"row":1,"column":2},
"bounds":"flush",
"align":"each",
"resolve":{"scale":{"color":"independent"},"legend":{"color":"independent"}}
}
